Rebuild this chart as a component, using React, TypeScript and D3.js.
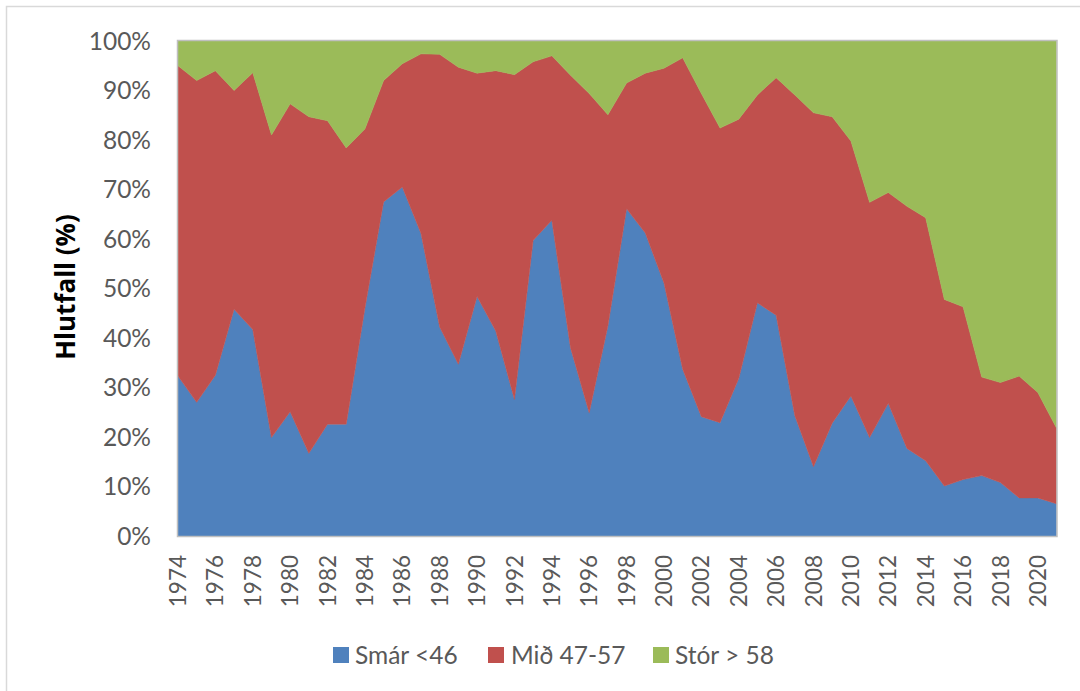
import React from "react";
import * as d3 from "d3";

const years: number[] = d3.range(1974, 2022);

// Smár <46 (% share)
const smar: number[] = [
  32.3, 27.0, 32.5, 45.8, 41.7, 19.9, 25.1, 16.7, 22.6, 22.6,
  46.0, 67.5, 70.5, 61.1, 42.2, 34.7, 48.4, 41.4, 27.6, 59.7,
  63.8, 38.0, 24.9, 42.4, 66.1, 61.2, 51.1, 33.7, 24.1, 22.9,
  31.8, 47.1, 44.6, 24.3, 14.0, 22.8, 28.3, 19.9, 26.8, 17.7,
  15.2, 10.1, 11.4, 12.2, 10.8, 7.7, 7.7, 6.5,
];

// Smár + Mið cumulative top (%), used to derive Mið 47-57
const smarMidTop: number[] = [
  95.0, 92.0, 94.0, 90.0, 93.6, 81.0, 87.3, 84.7, 83.9, 78.4,
  82.2, 92.0, 95.4, 97.4, 97.3, 94.7, 93.5, 94.0, 93.2, 95.8,
  97.0, 93.1, 89.4, 85.1, 91.5, 93.5, 94.5, 96.6, 89.4, 82.4,
  84.2, 89.1, 92.6, 89.1, 85.5, 84.7, 79.8, 67.4, 69.4, 66.6,
  64.3, 47.8, 46.3, 32.1, 31.0, 32.3, 29.0, 21.8,
];

const mid: number[] = smarMidTop.map((t, i) => +(t - smar[i]).toFixed(1));
const stor: number[] = smarMidTop.map((t) => +(100 - t).toFixed(1));

const seriesNames: string[] = ["Smár <46", "Mið 47-57", "Stór > 58"];
const seriesColors: string[] = ["#4F81BD", "#C0504D", "#9BBB59"];
const yTicks: number[] = d3.range(0, 101, 10);
const xTickYears: number[] = d3.range(1974, 2021, 2);

const FONT = "Lato, 'Open Sans', sans-serif";
const TEXT = "#595959";

export default function App() {
  const W = 1080;
  const H = 691;
  const left = 178;
  const right = 1056.5;
  const top = 41;
  const bottom = 536;

  const x = d3.scaleLinear().domain([1974, 2021]).range([left, right]);
  const y = d3.scaleLinear().domain([0, 100]).range([bottom, top]);

  const table = years.map((yr, i) => ({
    year: yr,
    s: smar[i],
    m: mid[i],
    t: stor[i],
  }));
  const stack = d3.stack<any>().keys(["s", "m", "t"]);
  const layers = stack(table);

  const area = d3
    .area<any>()
    .x((d) => x(d.data.year))
    .y0((d) => y(d[0]))
    .y1((d) => y(d[1]));

  const legendItems = [
    { sx: 333, tx: 355 },
    { sx: 488, tx: 511 },
    { sx: 653, tx: 675 },
  ];

  return (
    <svg
      width={W}
      height={H}
      style={{ position: "absolute", left: 0, top: 0 }}
      fontFamily={FONT}
    >
      <rect x={0} y={0} width={W} height={H} fill="#fff" />
      <rect
        x={6.5}
        y={6.5}
        width={W + 20}
        height={H + 20}
        fill="none"
        stroke="#d9d9d9"
        strokeWidth={1.5}
      />
      {layers.map((layer, i) => (
        <path
          key={i}
          d={area(layer) || ""}
          fill={seriesColors[i]}
          stroke={seriesColors[i]}
          strokeWidth={0.5}
        />
      ))}
      <rect
        x={left - 0.5}
        y={top - 0.5}
        width={right - left + 1}
        height={bottom - top + 1}
        fill="none"
        stroke="#bfbfbf"
        strokeWidth={1.5}
      />
      {yTicks.map((t) => (
        <text
          key={t}
          x={151}
          y={y(t)}
          dy="0.36em"
          textAnchor="end"
          fontSize={24.5}
          fill={TEXT}
        >
          {t}%
        </text>
      ))}
      {xTickYears.map((yr) => (
        <text
          key={yr}
          transform={`translate(${x(yr)},${555}) rotate(-90)`}
          dy="0.36em"
          textAnchor="end"
          fontSize={22.5}
          fill={TEXT}
        >
          {yr}
        </text>
      ))}
      <text
        transform={`translate(66,287) rotate(-90)`}
        dy="0.36em"
        textAnchor="middle"
        fontSize={26}
        fontWeight="bold"
        fontFamily="'Open Sans', sans-serif"
        fill="#000"
      >
        Hlutfall (%)
      </text>
      {seriesNames.map((name, i) => (
        <g key={name}>
          <rect
            x={legendItems[i].sx}
            y={647}
            width={16}
            height={16}
            fill={seriesColors[i]}
          />
          <text
            x={legendItems[i].tx}
            y={655}
            dy="0.36em"
            fontSize={24.5}
            fill={TEXT}
          >
            {name}
          </text>
        </g>
      ))}
    </svg>
  );
}
